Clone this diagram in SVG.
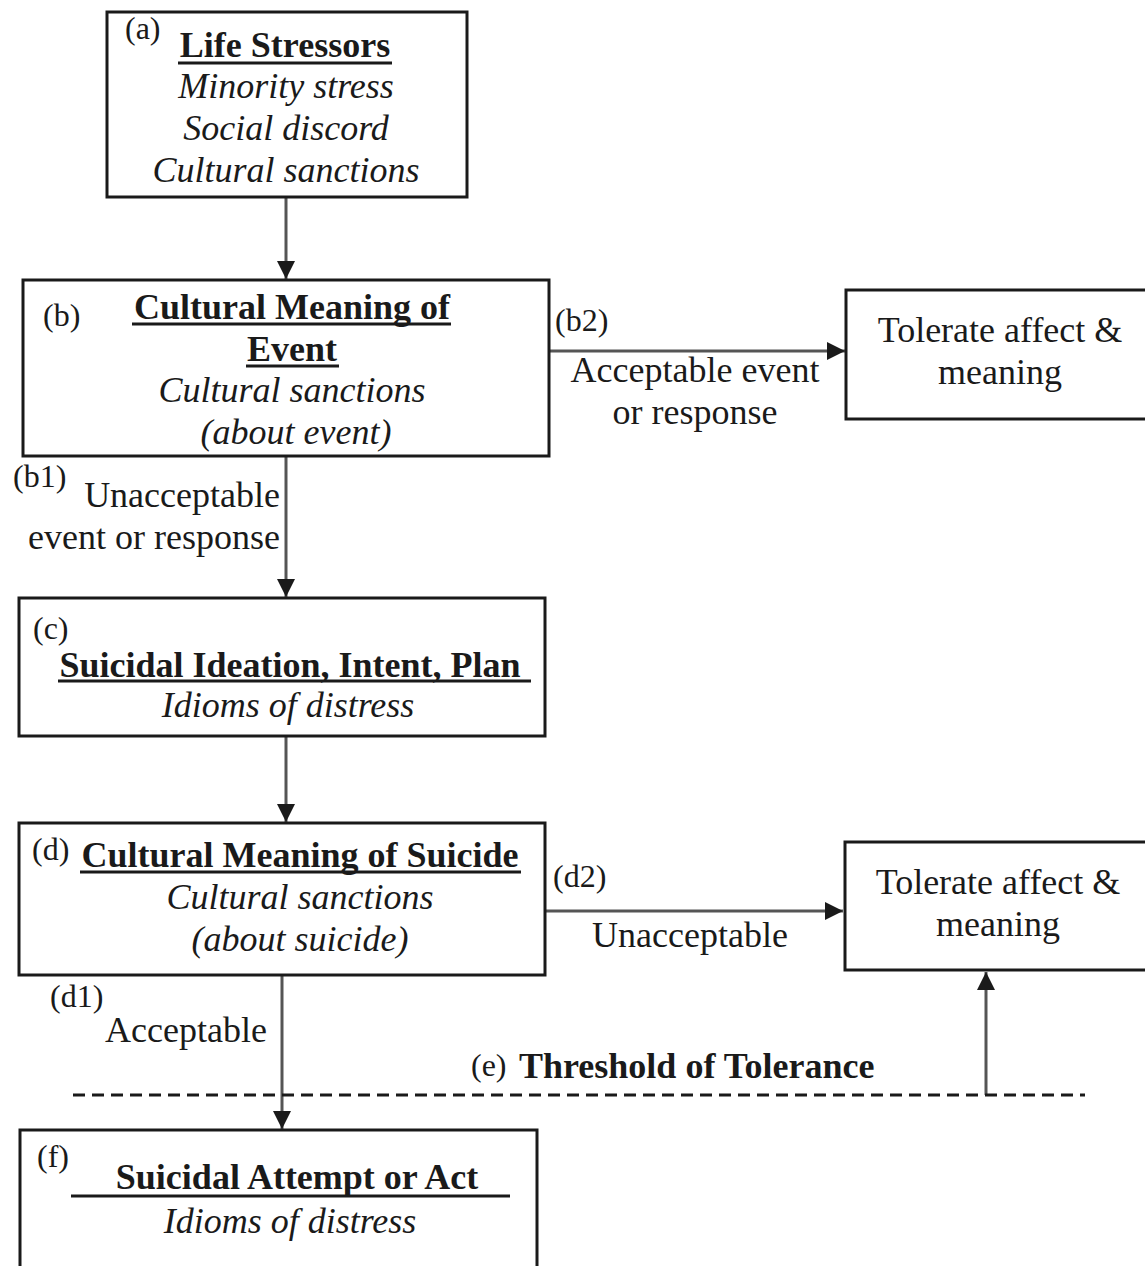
<svg xmlns="http://www.w3.org/2000/svg" width="1145" height="1266" viewBox="0 0 1145 1266">
<style>
.box{fill:#fff;stroke:#1a1a1a;stroke-width:3}
.t{font-family:"Liberation Serif","Times New Roman",serif;font-size:36px;fill:#1a1a1a}
.h{font-weight:bold}
.i{font-style:italic}
.s{font-size:32px}
.c{text-anchor:middle}
.r{text-anchor:end}
.ul{stroke:#1a1a1a;stroke-width:3}
.con{stroke:#555;stroke-width:3;fill:none}
.dash{stroke:#1a1a1a;stroke-width:3;stroke-dasharray:12 7;fill:none}
</style>
<defs>
<marker id="ah" viewBox="0 0 10 10" refX="10" refY="5" markerWidth="6" markerHeight="6" markerUnits="strokeWidth" orient="auto">
<path d="M0,0 L10,5 L0,10 Z" fill="#1a1a1a"/>
</marker>
</defs>
<g id="connectors">
<line class="con" x1="286" y1="198" x2="286" y2="279" marker-end="url(#ah)"/>
<line class="con" x1="549" y1="351" x2="845" y2="351" marker-end="url(#ah)"/>
<line class="con" x1="286" y1="456" x2="286" y2="597" marker-end="url(#ah)"/>
<line class="con" x1="286" y1="736" x2="286" y2="822" marker-end="url(#ah)"/>
<line class="con" x1="545" y1="911" x2="843" y2="911" marker-end="url(#ah)"/>
<line class="con" x1="282" y1="975" x2="282" y2="1129" marker-end="url(#ah)"/>
<line class="con" x1="986" y1="1095" x2="986" y2="972" marker-end="url(#ah)"/>
<text class="t s" x="555" y="331">(b2)</text>
<text class="t c" x="695" y="382">Acceptable event</text>
<text class="t c" x="695" y="424">or response</text>
<text class="t s" x="13" y="487">(b1)</text>
<text class="t r" x="280" y="507">Unacceptable</text>
<text class="t r" x="280" y="549">event or response</text>
<text class="t s" x="553" y="887">(d2)</text>
<text class="t c" x="690" y="947">Unacceptable</text>
<text class="t s" x="50" y="1007">(d1)</text>
<text class="t" x="105" y="1042">Acceptable</text>
</g>
<g id="threshold">
<line class="dash" x1="73" y1="1095" x2="1085" y2="1095"/>
<text class="t s" x="471" y="1076">(e)</text>
<text class="t h" x="519" y="1078">Threshold of Tolerance</text>
</g>
<g id="node-a">
<rect class="box" x="107" y="12" width="360" height="185"/>
<text class="t s" x="125" y="39">(a)</text>
<text class="t h c" x="285" y="57">Life Stressors</text>
<line class="ul" x1="178" y1="63" x2="392" y2="63"/>
<text class="t i c" x="286" y="98">Minority stress</text>
<text class="t i c" x="286" y="140">Social discord</text>
<text class="t i c" x="286" y="182">Cultural sanctions</text>
</g>
<g id="node-b">
<rect class="box" x="23" y="280" width="526" height="176"/>
<text class="t s" x="43" y="326">(b)</text>
<text class="t h c" x="292" y="319">Cultural Meaning of</text>
<line class="ul" x1="132" y1="324" x2="451" y2="324"/>
<text class="t h c" x="292" y="361">Event</text>
<line class="ul" x1="246" y1="366" x2="339" y2="366"/>
<text class="t i c" x="292" y="402">Cultural sanctions</text>
<text class="t i c" x="296" y="444">(about event)</text>
</g>
<g id="node-b2">
<rect class="box" x="846" y="290" width="305" height="129"/>
<text class="t c" x="1000" y="342">Tolerate affect &amp;</text>
<text class="t c" x="1000" y="384">meaning</text>
</g>
<g id="node-c">
<rect class="box" x="19" y="598" width="526" height="138"/>
<text class="t s" x="33" y="639">(c)</text>
<text class="t h c" x="290" y="677">Suicidal Ideation, Intent, Plan</text>
<line class="ul" x1="58" y1="681" x2="531" y2="681"/>
<text class="t i c" x="288" y="717">Idioms of distress</text>
</g>
<g id="node-d">
<rect class="box" x="19" y="823" width="526" height="152"/>
<text class="t s" x="32" y="860">(d)</text>
<text class="t h c" x="300" y="867">Cultural Meaning of Suicide</text>
<line class="ul" x1="80" y1="872" x2="521" y2="872"/>
<text class="t i c" x="300" y="909">Cultural sanctions</text>
<text class="t i c" x="300" y="951">(about suicide)</text>
</g>
<g id="node-d2">
<rect class="box" x="845" y="842" width="305" height="128"/>
<text class="t c" x="998" y="894">Tolerate affect &amp;</text>
<text class="t c" x="998" y="936">meaning</text>
</g>
<g id="node-f">
<rect class="box" x="20" y="1130" width="517" height="150"/>
<text class="t s" x="37" y="1167">(f)</text>
<text class="t h c" x="297" y="1189">Suicidal Attempt or Act</text>
<line class="ul" x1="71" y1="1196" x2="510" y2="1196"/>
<text class="t i c" x="290" y="1233">Idioms of distress</text>
</g>
</svg>
